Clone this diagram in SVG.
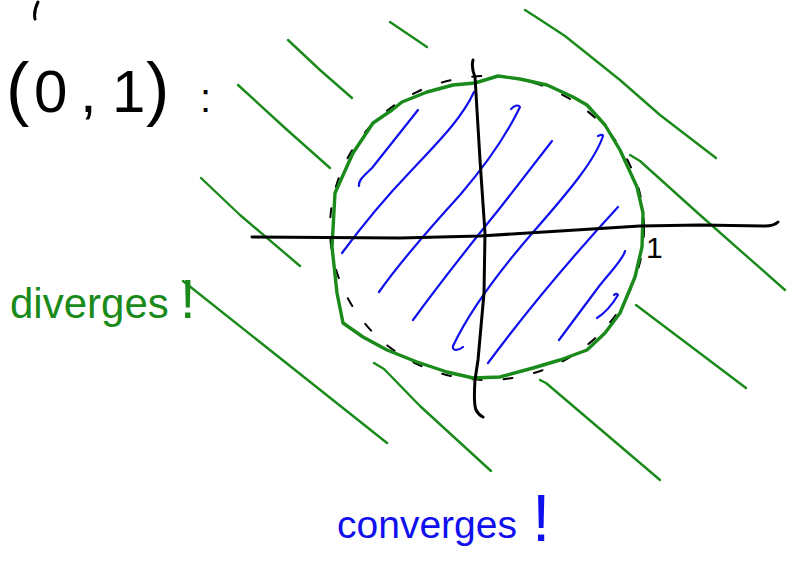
<svg xmlns="http://www.w3.org/2000/svg" width="796" height="567" viewBox="0 0 796 567">
<style>
.g{fill:none;stroke:#1a8a1a;stroke-width:2.4;stroke-linecap:round;stroke-linejoin:round}
.gc{fill:none;stroke:#1a8a1a;stroke-width:3.4;stroke-linecap:round;stroke-linejoin:round}
.b{fill:none;stroke:#1010ee;stroke-width:2.2;stroke-linecap:round;stroke-linejoin:round}
.k{fill:none;stroke:#000;stroke-width:3;stroke-linecap:round;stroke-linejoin:round}
.kd{fill:none;stroke:#000;stroke-width:2;stroke-dasharray:9 22;stroke-linecap:round}
.hw{font-family:"Liberation Sans","DejaVu Sans",sans-serif}
</style>
<rect width="796" height="567" fill="#fff"/>
<g id="text-interval">
<path class="k" d="M38,2 C35,8 34,14 35,19"/>
<text class="hw" x="6" y="112" font-size="70" fill="#000">(<tspan x="34" font-size="60">0</tspan><tspan x="80" font-size="60">,</tspan><tspan x="112" font-size="60">1</tspan><tspan x="146">)</tspan><tspan x="200" font-size="40">:</tspan></text>
</g>
<g id="outside-hatch">
<path class="g" d="M390,22 L427,47"/>
<path class="g" d="M288,40 L320,70 L352,98"/>
<path class="g" d="M238,85 L285,128 L330,168"/>
<path class="g" d="M201,178 L240,215 L300,266"/>
<path class="g" d="M525,10 L536,17 L565,36 L620,80 L660,115 L716,158"/>
<path class="g" d="M630,155 L640,161 L700,215 L785,290"/>
<path class="g" d="M636,305 L746,388"/>
<path class="g" d="M540,380 L546,383 L660,480"/>
<path class="g" d="M374,363 L384,369 L420,406 L491,471"/>
<path class="g" d="M183,281 L387,443"/>
</g>
<g id="circle">
<ellipse class="kd" cx="487" cy="228" rx="157" ry="152"/>
<path class="gc" d="M453,85 L475,83 L498,76 L520,79 L547,85 L573,97 L587,105 L605,125 L620,150 L637,187 L643,213 L642,247 L635,277 L620,313 L605,333 L587,350 L560,360 L533,368 L500,377 L473,378 L447,372 L417,362 L387,350 L363,337 L343,323 L337,293 L332,247 L335,193 L353,153 L373,123 L392,110 L402,102 L427,92 Z"/>
</g>
<g id="inside-hatch">
<path class="b" d="M359,186 C358,180 365,175 372,168 L418,110"/>
<path class="b" d="M342,253 C365,222 385,198 410,172 C440,140 462,118 474,92"/>
<path class="b" d="M379,292 C400,262 430,228 460,195 C490,160 508,132 520,107 C518,104 514,106 511,109"/>
<path class="b" d="M413,320 C440,283 470,245 500,208 L552,141"/>
<path class="b" d="M463,347 C458,351 452,351 453,346 C470,310 500,270 535,230 C570,190 595,160 603,136 C603,134 600,135 598,136"/>
<path class="b" d="M488,363 C520,320 560,270 618,207"/>
<path class="b" d="M559,340 L600,285 C612,270 624,258 625,251"/>
<path class="b" d="M597,318 C605,313 612,305 618,295 C617,293 615,294 614,295"/>
</g>
<g id="axes">
<path class="k" d="M252,237 L400,238 L480,236 L560,231 L640,226 L700,225 L765,226 C772,226 776,224 778,222"/>
<path class="k" d="M473,60 C472,64 472,70 475,77 L480,160 L485,233 L484,293 L478,360 L475,380 C474,395 474,405 476,410 C478,414 481,416 483,417"/>
<text class="hw" x="646" y="258" font-size="30" fill="#000">1</text>
</g>
<g id="label-diverges">
<text class="hw" x="10" y="318" font-size="42" fill="#1a8a1a">diverges<tspan x="180" font-size="56">!</tspan></text>
</g>
<g id="label-converges">
<text class="hw" x="337" y="538" font-size="39" fill="#1010ee">converges<tspan x="532" y="541" font-size="66">!</tspan></text>
</g>
</svg>
